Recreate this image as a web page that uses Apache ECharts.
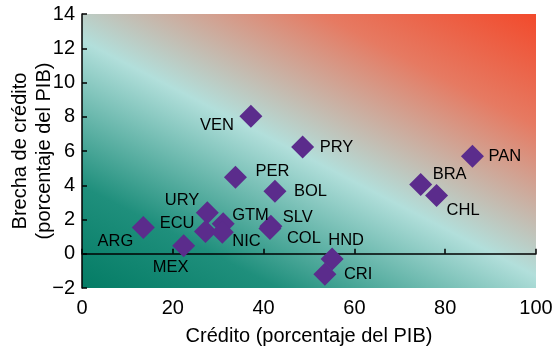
<!DOCTYPE html>
<html><head><meta charset="utf-8">
<script src="https://cdn.jsdelivr.net/npm/echarts@6/dist/echarts.min.js"></script>
<style>html,body{margin:0;padding:0;background:#fff}#c{width:556px;height:349px}</style>
</head><body><div id="c"></div>
<script>
// ---- data ----
const countries = ['ARG','MEX','URY','ECU','GTM','NIC','PER','VEN','BOL','SLV','COL','PRY','HND','CRI','BRA','CHL','PAN'];
const credit    = [13.5, 22.4, 27.6, 27.2, 31.1, 30.9, 33.8, 37.2, 42.5, 41.6, 41.4, 48.6, 55.1, 53.5, 74.6, 78.1, 86.0];
const creditGap = [1.54, 0.47, 2.4, 1.3, 1.75, 1.25, 4.47, 8.03, 3.65, 1.6, 1.48, 6.23, -0.31, -1.19, 4.04, 3.4, 5.69];
const xTickValues = [0, 20, 40, 60, 80, 100];
const yTickValues = [-2, 0, 2, 4, 6, 8, 10, 12, 14];
const xTitle = 'Crédito (porcentaje del PIB)';
const yTitle = 'Brecha de crédito\n(porcentaje del PIB)';

// ---- label placement (style, not data): [align, dx, dy] ----
const labelPlace = {
  ARG:['right',-10,14], MEX:['center',-13,22], URY:['right',-8,-12], ECU:['right',-11,-8],
  GTM:['left',9,-8], NIC:['left',10,9], PER:['left',20,-6], VEN:['right',-17,9],
  BOL:['left',19,0], SLV:['left',12,-9], COL:['left',17,10], PRY:['left',17,0],
  HND:['center',14,-19], CRI:['left',19,0], BRA:['left',12,-10], CHL:['left',10,15], PAN:['left',16,0]
};

const FONT = 'Liberation Sans, Arial, sans-serif';
const TXT = '#000';
const points = countries.map((c, i) => {
  const p = labelPlace[c];
  return {
    name: c, value: [credit[i], creditGap[i]],
    label: { show: true, position: 'inside', align: p[0], verticalAlign: 'middle', offset: [p[1], p[2]],
             formatter: c, fontSize: 16.5, color: TXT, fontFamily: FONT, textBorderWidth: 0, textBorderColor: 'transparent' }
  };
});

const chart = echarts.init(document.getElementById('c'), null, { renderer: 'canvas' });
const grad = new echarts.graphic.LinearGradient(0.277, 1.238, 0.735, -0.227, [
  { offset: 0, color: '#047c65' },
  { offset: 0.2, color: '#1f8f7c' },
  { offset: 0.486, color: '#b2dfdb' },
  { offset: 0.78, color: '#e67a62' },
  { offset: 1, color: '#f24a2c' }
]);
const fmt = v => String(v).replace('-', '\u2212');
chart.setOption({
  animation: false,
  backgroundColor: '#fff',
  grid: { left: 82, right: 20, top: 14, bottom: 61, show: true, backgroundColor: grad, borderWidth: 0,
          containLabel: false, outerBoundsMode: 'none' },
  xAxis: [
    { type: 'value', min: xTickValues[0], max: xTickValues[xTickValues.length-1], interval: 20, position: 'bottom',
      axisLine: { show: false }, axisTick: { show: false }, splitLine: { show: false },
      axisLabel: { fontSize: 20, color: TXT, fontFamily: FONT, margin: 10 },
      name: xTitle, nameLocation: 'middle', nameGap: 38, nameMoveOverlap: false,
      nameTextStyle: { fontSize: 20, color: TXT, fontFamily: FONT } },
    { type: 'value', min: xTickValues[0], max: xTickValues[xTickValues.length-1], interval: 20, position: 'bottom',
      axisLine: { show: true, onZero: true, onZeroAxisIndex: 0, lineStyle: { color: '#000', width: 1.5 } },
      axisTick: { show: true, inside: true, length: 5, lineStyle: { color: '#000', width: 1.5 } },
      axisLabel: { show: false }, splitLine: { show: false } }
  ],
  yAxis: {
    type: 'value', min: yTickValues[0], max: yTickValues[yTickValues.length-1], interval: 2,
    axisLine: { show: true, onZero: false, lineStyle: { color: '#000', width: 1.5 } },
    axisTick: { show: true, inside: true, length: 5, lineStyle: { color: '#000', width: 1.5 } },
    splitLine: { show: false },
    axisLabel: { fontSize: 20, color: TXT, fontFamily: FONT, margin: 7, formatter: fmt },
    name: yTitle, nameLocation: 'middle', nameRotate: 90, nameGap: 26, nameMoveOverlap: false,
    nameTextStyle: { fontSize: 20, color: TXT, fontFamily: FONT, lineHeight: 24, align: 'center' }
  },
  series: [{
    type: 'scatter', xAxisIndex: 0, symbol: 'diamond', symbolSize: 23,
    itemStyle: { color: '#5b2c8c', opacity: 1 },
    emphasis: { disabled: true },
    data: points
  }]
});
</script></body></html>
